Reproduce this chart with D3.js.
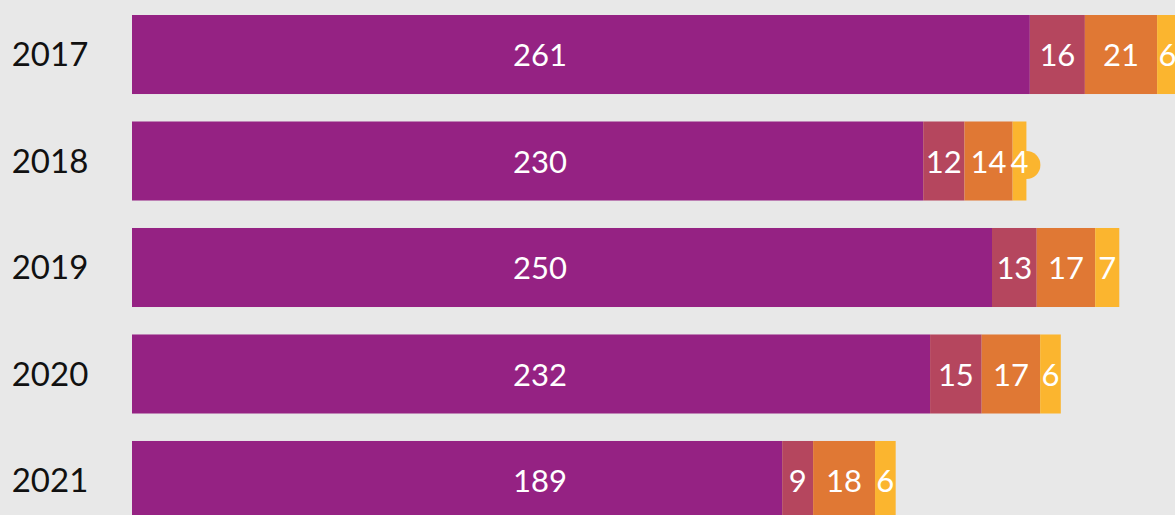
<!DOCTYPE html>
<html>
<head>
<meta charset="utf-8">
<script src="https://cdn.jsdelivr.net/npm/d3@7"></script>
<style>
  body { margin: 0; background: #e8e8e8; overflow: hidden; }
  text { font-family: Lato, "Open Sans", sans-serif; }
</style>
</head>
<body>
<script>
// chart data
var years = ["2017", "2018", "2019", "2020", "2021"];
var seriesA = [261, 230, 250, 232, 189];
var seriesB = [16, 12, 13, 15, 9];
var seriesC = [21, 14, 17, 17, 18];
var seriesD = [6, 4, 7, 6, 6];

var colors = ["#952283", "#b5465e", "#e07834", "#fbb52f"];
var w = 1175, h = 515;

window.onload = function(){
    var svg = d3.select("body").append("svg")
        .attr("width", w)
        .attr("height", h);

    svg.append("rect").attr("width", w).attr("height", h).style("fill", "#e8e8e8");

    var rows = years.map(function(y, i){
        return {year: y, A: seriesA[i], B: seriesB[i], C: seriesC[i], D: seriesD[i]};
    });
    var stack = d3.stack().keys(["A", "B", "C", "D"])(rows);

    var x = d3.scaleLinear().domain([0, 100]).range([132, 132 + 344]);
    var y = d3.scaleBand().domain(years).range([15, 520]).paddingInner(0.258).paddingOuter(0);

    var layers = svg.selectAll("g.layer")
        .data(stack)
        .enter().append("g")
        .attr("class", "layer")
        .style("fill", function(d, i){ return colors[i]; });

    layers.selectAll("rect")
        .data(function(d){ return d; })
        .enter().append("rect")
        .attr("x", function(d){ return x(d[0]); })
        .attr("y", function(d){ return y(d.data.year); })
        .attr("width", function(d){ return x(d[1]) - x(d[0]); })
        .attr("height", y.bandwidth());

    // little bubble behind labels that don't fit
    layers.filter(function(d){ return d.key === "D"; })
        .selectAll("circle")
        .data(function(d){ return d.filter(function(s){ return s[1] - s[0] < 5; }); })
        .enter().append("circle")
        .attr("cx", function(d){ return x(d[1]); })
        .attr("cy", function(d){ return y(d.data.year) + y.bandwidth() / 2 + 4; })
        .attr("r", 14);

    // value labels
    layers.selectAll("text")
        .data(function(d){ return d.map(function(s){ s.key = d.key; return s; }); })
        .enter().append("text")
        .attr("x", function(d){
            if (d.key === "A") return 540;
            return (x(d[0]) + x(d[1])) / 2;
        })
        .attr("y", function(d){ return y(d.data.year) + y.bandwidth() / 2 + 1; })
        .attr("dy", "0.35em")
        .attr("text-anchor", "middle")
        .style("fill", "#fff")
        .style("font-size", "31px")
        .text(function(d){ return d[1] - d[0]; });

    // year labels
    svg.selectAll("text.year")
        .data(years)
        .enter().append("text")
        .attr("class", "year")
        .attr("x", 50)
        .attr("y", function(d){ return y(d) + y.bandwidth() / 2; })
        .attr("dy", "0.35em")
        .attr("text-anchor", "middle")
        .style("fill", "#111")
        .style("font-size", "33px")
        .text(function(d){ return d; });
};
</script>
</body>
</html>
